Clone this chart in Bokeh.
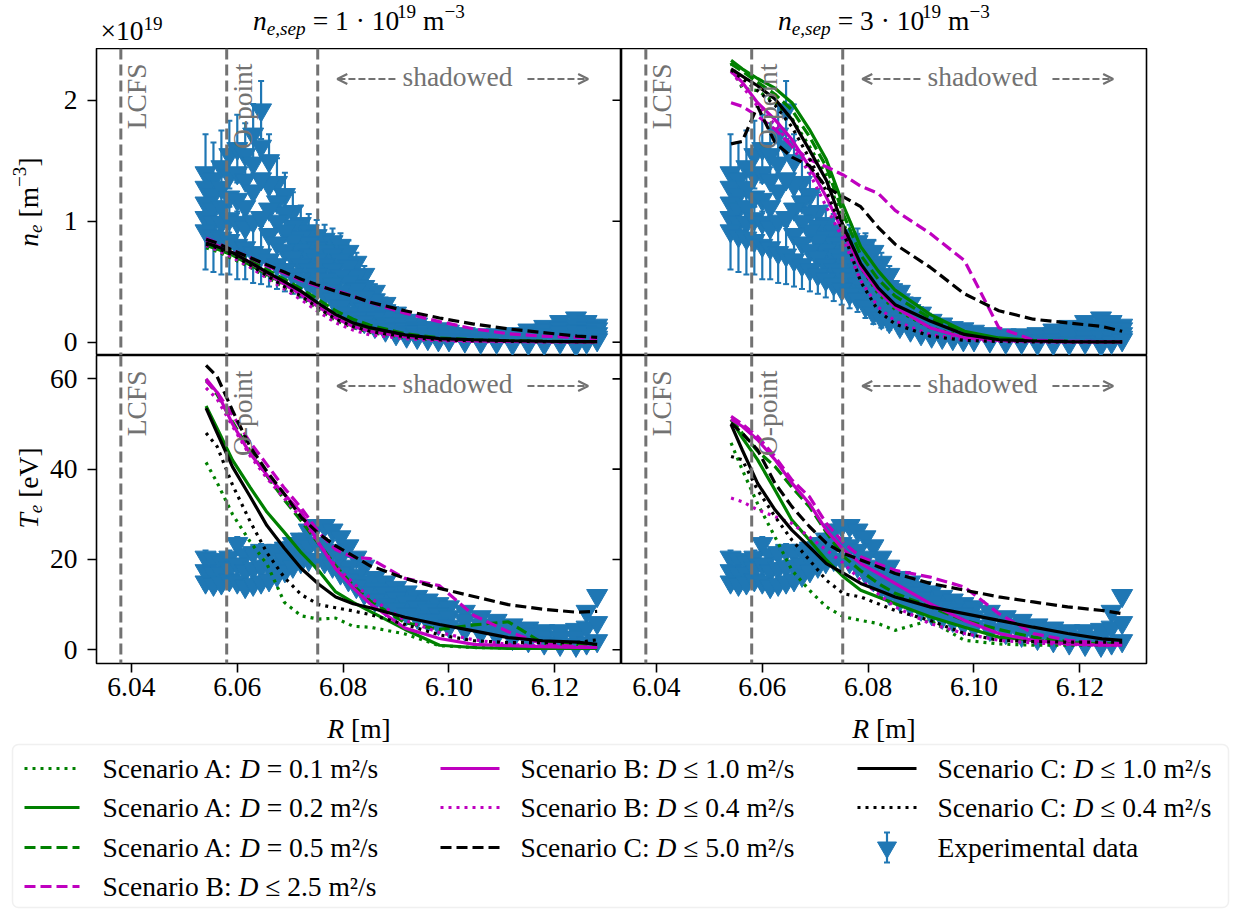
import numpy as np
from bokeh.plotting import figure
from bokeh.layouts import column, row
from bokeh.models import (Range1d, FixedTicker, PrintfTickFormatter, Span, Label,
                          Arrow, OpenHead, BoxAnnotation)
from bokeh.embed import file_html
from bokeh.resources import INLINE

# ---------------------------------------------------------------- data
R_MODEL = [6.0541, 6.0562, 6.0591, 6.0624, 6.0656, 6.0689, 6.0721, 6.0754, 6.0786,
           6.0819, 6.0851, 6.0917, 6.0982, 6.1047, 6.1112, 6.1177, 6.1242, 6.1280]

# n_e [1e19 m^-3], n_e,sep = 1e19
NE_SEP1 = {
    "A01": [0.78, 0.75, 0.69, 0.62, 0.54, 0.45, 0.37, 0.27, 0.18, 0.12, 0.08, 0.04, 0.018, 0.010, 0.006, 0.004, 0.003, 0.003],
    "A02": [0.80, 0.77, 0.72, 0.64, 0.56, 0.48, 0.40, 0.30, 0.21, 0.14, 0.10, 0.05, 0.025, 0.015, 0.010, 0.006, 0.004, 0.004],
    "A05": [0.83, 0.80, 0.75, 0.68, 0.60, 0.52, 0.44, 0.35, 0.26, 0.19, 0.14, 0.07, 0.035, 0.020, 0.013, 0.008, 0.005, 0.005],
    "B25": [0.86, 0.82, 0.76, 0.70, 0.63, 0.57, 0.51, 0.46, 0.43, 0.38, 0.33, 0.24, 0.17, 0.11, 0.07, 0.05, 0.04, 0.03],
    "B10": [0.84, 0.80, 0.74, 0.66, 0.57, 0.48, 0.39, 0.29, 0.20, 0.13, 0.09, 0.045, 0.020, 0.010, 0.006, 0.004, 0.003, 0.003],
    "B04": [0.80, 0.76, 0.70, 0.62, 0.53, 0.44, 0.35, 0.25, 0.16, 0.10, 0.06, 0.030, 0.012, 0.006, 0.004, 0.003, 0.002, 0.002],
    "C50": [0.85, 0.82, 0.76, 0.70, 0.64, 0.58, 0.52, 0.47, 0.42, 0.38, 0.33, 0.26, 0.20, 0.15, 0.11, 0.08, 0.05, 0.04],
    "C10": [0.82, 0.79, 0.74, 0.66, 0.58, 0.50, 0.42, 0.32, 0.23, 0.16, 0.12, 0.06, 0.030, 0.020, 0.012, 0.008, 0.005, 0.005],
    "C04": [0.81, 0.78, 0.72, 0.64, 0.55, 0.46, 0.38, 0.28, 0.19, 0.13, 0.09, 0.045, 0.020, 0.012, 0.008, 0.005, 0.004, 0.004],
}
# n_e [1e19 m^-3], n_e,sep = 3e19
NE_SEP3 = {
    "A01": [2.31, 2.10, 2.08, 1.98, 1.85, 1.62, 1.38, 0.98, 0.62, 0.40, 0.27, 0.12, 0.045, 0.015, 0.006, 0.003, 0.002, 0.002],
    "A02": [2.33, 2.26, 2.18, 2.10, 1.98, 1.76, 1.51, 1.12, 0.79, 0.59, 0.43, 0.23, 0.09, 0.035, 0.015, 0.008, 0.005, 0.005],
    "A05": [2.30, 2.24, 2.15, 2.05, 1.92, 1.70, 1.45, 1.05, 0.72, 0.52, 0.38, 0.20, 0.08, 0.030, 0.012, 0.006, 0.004, 0.004],
    "B25": [1.98, 1.95, 1.87, 1.76, 1.62, 1.51, 1.45, 1.38, 1.29, 1.23, 1.09, 0.90, 0.675, 0.12, 0.017, 0.008, 0.005, 0.005],
    "B10": [2.24, 2.15, 1.98, 1.84, 1.675, 1.45, 1.20, 0.90, 0.62, 0.425, 0.29, 0.12, 0.036, 0.014, 0.006, 0.003, 0.002, 0.002],
    "B04": [2.24, 2.12, 1.95, 1.80, 1.62, 1.40, 1.12, 0.84, 0.51, 0.29, 0.175, 0.064, 0.020, 0.008, 0.004, 0.002, 0.002, 0.002],
    "C50": [1.64, 1.66, 1.95, 1.65, 1.53, 1.46, 1.28, 1.20, 1.12, 0.95, 0.81, 0.62, 0.40, 0.26, 0.19, 0.16, 0.13, 0.09],
    "C10": [2.26, 2.20, 2.12, 2.01, 1.84, 1.59, 1.34, 0.95, 0.65, 0.45, 0.31, 0.175, 0.064, 0.020, 0.010, 0.005, 0.003, 0.003],
    "C04": [2.25, 2.18, 2.08, 1.96, 1.78, 1.52, 1.25, 0.90, 0.50, 0.26, 0.15, 0.05, 0.015, 0.006, 0.003, 0.002, 0.002, 0.002],
}
# T_e [eV], n_e,sep = 1e19
TE_SEP1 = {
    "A01": [41.5, 37.0, 30.0, 24.0, 19.0, 10.5, 7.5, 6.8, 7.0, 5.2, 5.0, 3.5, 0.9, 0.5, 0.4, 0.4, 0.4, 0.4],
    "A02": [54.0, 49.0, 42.0, 36.0, 30.5, 26.0, 21.5, 17.5, 12.8, 10.5, 8.5, 4.5, 1.0, 0.5, 0.3, 0.3, 0.3, 0.3],
    "A05": [59.8, 56.5, 50.5, 44.0, 38.5, 33.2, 28.5, 23.5, 18.6, 14.2, 10.8, 6.0, 4.5, 5.5, 6.2, 1.5, 1.0, 0.9],
    "B25": [59.5, 57.0, 52.0, 46.0, 41.0, 35.8, 31.4, 26.0, 22.2, 20.5, 20.2, 15.8, 14.2, 7.6, 4.0, 1.3, 0.7, 0.5],
    "B10": [60.0, 57.0, 50.0, 43.5, 38.7, 34.4, 30.4, 23.6, 17.9, 13.7, 10.2, 4.8, 2.5, 1.2, 0.9, 0.7, 0.5, 0.5],
    "B04": [58.0, 55.5, 49.5, 43.0, 38.0, 33.5, 29.2, 23.5, 18.5, 14.8, 11.5, 6.5, 3.8, 2.2, 1.2, 0.8, 0.6, 0.5],
    "C50": [63.0, 60.5, 53.0, 45.0, 39.5, 34.5, 29.3, 25.7, 23.0, 20.8, 18.6, 15.8, 13.6, 11.8, 10.0, 9.0, 8.3, 8.5],
    "C10": [53.5, 48.0, 40.5, 34.0, 27.5, 22.5, 18.0, 14.5, 11.7, 10.2, 9.3, 7.2, 5.6, 4.2, 2.7, 2.0, 1.7, 1.2],
    "C04": [48.0, 45.0, 36.5, 28.5, 21.5, 16.0, 12.2, 10.0, 9.3, 8.6, 7.8, 5.6, 3.3, 2.0, 1.6, 1.6, 1.6, 2.2],
}
# T_e [eV], n_e,sep = 3e19
TE_SEP3 = {
    "A01": [45.8, 39.9, 32.4, 25.0, 17.6, 13.2, 9.5, 7.3, 6.5, 5.8, 4.3, 6.5, 2.1, 1.3, 1.0, 1.0, 1.0, 1.0],
    "A02": [51.0, 47.0, 42.1, 35.4, 28.7, 24.3, 19.9, 16.1, 13.2, 11.7, 10.2, 7.3, 5.0, 2.8, 2.1, 1.6, 1.3, 1.3],
    "A05": [51.0, 48.0, 44.0, 40.6, 36.0, 31.7, 26.0, 20.6, 17.5, 14.7, 12.5, 9.5, 6.5, 4.5, 2.8, 1.8, 1.3, 1.3],
    "B25": [51.7, 50.0, 47.3, 42.8, 37.6, 33.9, 28.0, 23.6, 20.6, 19.0, 17.6, 16.1, 13.9, 8.0, 3.6, 2.1, 1.5, 1.3],
    "B10": [51.0, 49.5, 46.5, 42.1, 36.9, 32.4, 26.5, 22.1, 19.1, 16.9, 14.7, 10.2, 6.5, 3.6, 2.1, 1.3, 1.0, 1.0],
    "B04": [33.6, 32.8, 31.0, 29.5, 28.0, 25.0, 22.1, 19.1, 15.4, 12.4, 9.5, 5.8, 3.6, 2.1, 1.5, 1.2, 1.0, 1.0],
    "C50": [50.2, 48.0, 44.3, 36.9, 31.7, 27.3, 23.6, 21.3, 19.9, 18.4, 16.9, 14.7, 13.2, 11.7, 10.6, 9.5, 8.7, 8.0],
    "C10": [49.9, 44.3, 36.9, 31.0, 26.5, 22.8, 19.1, 16.9, 14.7, 13.2, 11.7, 9.5, 8.0, 6.5, 5.0, 3.6, 2.4, 2.1],
    "C04": [42.8, 42.1, 35.4, 29.5, 24.3, 19.9, 15.4, 12.4, 11.7, 10.2, 8.7, 6.5, 3.6, 2.1, 1.8, 1.7, 1.7, 1.7],
}

# experimental data (same profiles in both columns)
R_EXP = [6.0540, 6.0555, 6.0570, 6.0585, 6.0600, 6.0615, 6.0630, 6.0645, 6.0660, 6.0675,
         6.0690, 6.0705, 6.0720, 6.0735, 6.0750, 6.0765, 6.0780, 6.0795, 6.0810, 6.0825,
         6.0840, 6.0860, 6.0880, 6.0900, 6.0920, 6.0940, 6.0960, 6.0980, 6.1000, 6.1030,
         6.1060, 6.1090, 6.1120, 6.1150, 6.1180, 6.1210, 6.1240, 6.1260, 6.1280]
NE_EXP_HI = [1.40, 1.35, 1.45, 1.55, 1.60, 1.55, 1.72, 1.92, 1.50, 1.32, 1.22, 1.08, 0.98, 0.92, 0.88,
             0.85, 0.83, 0.80, 0.75, 0.66, 0.56, 0.42, 0.32, 0.24, 0.18, 0.15, 0.12, 0.11, 0.09, 0.07,
             0.06, 0.06, 0.07, 0.10, 0.13, 0.17, 0.20, 0.17, 0.14]
NE_EXP_UM = [1.28, 1.22, 1.28, 1.38, 1.40, 1.34, 1.48, 1.62, 1.30, 1.16, 1.07, 0.96, 0.87, 0.82, 0.78,
             0.75, 0.72, 0.68, 0.63, 0.55, 0.46, 0.35, 0.26, 0.19, 0.14, 0.12, 0.10, 0.08, 0.07, 0.05,
             0.04, 0.04, 0.05, 0.07, 0.10, 0.12, 0.14, 0.12, 0.11]
NE_EXP_MID = [1.15, 1.10, 1.12, 1.20, 1.18, 1.12, 1.25, 1.35, 1.10, 1.00, 0.92, 0.84, 0.76, 0.72, 0.68,
              0.64, 0.60, 0.55, 0.50, 0.44, 0.37, 0.28, 0.21, 0.15, 0.11, 0.09, 0.07, 0.06, 0.05, 0.04,
              0.03, 0.03, 0.03, 0.05, 0.06, 0.08, 0.09, 0.08, 0.07]
NE_EXP_LM = [1.03, 0.99, 0.99, 1.02, 0.99, 0.95, 1.00, 1.03, 0.89, 0.82, 0.76, 0.70, 0.64, 0.60, 0.56,
             0.52, 0.48, 0.42, 0.37, 0.32, 0.27, 0.20, 0.15, 0.11, 0.08, 0.06, 0.05, 0.04, 0.03, 0.02,
             0.02, 0.01, 0.01, 0.02, 0.03, 0.04, 0.04, 0.04, 0.04]
NE_EXP_LO = [0.92, 0.88, 0.86, 0.84, 0.80, 0.78, 0.74, 0.72, 0.68, 0.64, 0.60, 0.56, 0.52, 0.48, 0.44,
             0.40, 0.36, 0.30, 0.24, 0.20, 0.17, 0.13, 0.10, 0.07, 0.05, 0.04, 0.03, 0.02, 0.02, 0.01,
             0.00, 0.00, -0.01, -0.01, -0.01, 0.00, -0.02, 0.00, 0.02]
NE_EXP_ERR = [0.32, 0.30, 0.30, 0.28, 0.28, 0.26, 0.25, 0.24, 0.22, 0.20, 0.18, 0.16, 0.15, 0.14, 0.13,
              0.12, 0.11, 0.10, 0.09, 0.08, 0.07, 0.06, 0.05, 0.05, 0.04, 0.04, 0.03, 0.03, 0.03, 0.03,
              0.03, 0.03, 0.03, 0.03, 0.03, 0.03, 0.03, 0.03, 0.03]
TE_EXP_HI = [20.5, 20.0, 19.5, 20.5, 23.5, 21.0, 21.5, 22.0, 21.5, 22.0, 22.5, 23.5, 24.5, 26.5, 27.5,
             27.5, 26.5, 25.0, 23.0, 20.5, 18.5, 16.0, 15.0, 13.8, 12.8, 11.8, 11.0, 10.2, 9.5, 8.5,
             7.3, 6.5, 5.5, 4.8, 4.2, 4.2, 4.5, 8.5, 12.0]
TE_EXP_MID = [17.5, 17.0, 17.0, 18.0, 19.0, 17.5, 18.0, 18.5, 18.5, 19.0, 20.0, 21.0, 22.0, 23.0, 23.5,
              23.0, 22.0, 20.5, 18.5, 16.5, 15.0, 13.5, 12.5, 11.5, 10.5, 9.5, 8.8, 8.0, 7.3, 6.5,
              5.5, 4.8, 4.0, 3.4, 2.8, 2.6, 2.8, 5.0, 6.0]
TE_EXP_LO = [15.0, 14.5, 14.8, 15.5, 15.0, 14.0, 14.5, 15.0, 15.5, 16.5, 17.5, 18.5, 19.5, 20.0, 20.0,
             19.5, 18.5, 17.0, 15.5, 14.0, 12.5, 11.0, 10.0, 9.0, 8.0, 7.2, 6.5, 5.8, 5.2, 4.5,
             3.8, 3.2, 2.5, 2.0, 1.5, 1.2, 1.0, 1.5, 2.0]
TE_EXP_ERR = [1.5, 1.5, 1.5, 1.5, 1.5, 1.4, 1.4, 1.4, 1.3, 1.3, 1.3, 1.2, 1.2, 1.2, 1.1,
              1.1, 1.0, 1.0, 1.0, 0.9, 0.9, 0.8, 0.8, 0.8, 0.7, 0.7, 0.7, 0.6, 0.6, 0.6,
              0.5, 0.5, 0.5, 0.5, 0.4, 0.4, 0.4, 0.4, 0.4]

VLINE_R = [6.038, 6.058, 6.0752]
VLINE_TEXT = ["LCFS", "O-point", ""]
SHADOW_FROM, SHADOW_TO = 6.0789, 6.1263
SHADOW_TEXT_X = 6.1016
X_TICKS = [6.04, 6.06, 6.08, 6.10, 6.12]
NE_TICKS = [0, 1, 2]
TE_TICKS = [0, 20, 40, 60]
NE_SEP_VALUES = ["1", "3"]

SCENARIOS = [  # key, prefix, relation, D value
    ("A01", "Scenario A: ", "=", "0.1"),
    ("A02", "Scenario A: ", "=", "0.2"),
    ("A05", "Scenario A: ", "=", "0.5"),
    ("B25", "Scenario B: ", "\u2264", "2.5"),
    ("B10", "Scenario B: ", "\u2264", "1.0"),
    ("B04", "Scenario B: ", "\u2264", "0.4"),
    ("C50", "Scenario C: ", "\u2264", "5.0"),
    ("C10", "Scenario C: ", "\u2264", "1.0"),
    ("C04", "Scenario C: ", "\u2264", "0.4"),
]
EXP_LABEL = "Experimental data"

# ---------------------------------------------------------------- styles
FONT = "Liberation Serif"
FS = 27.5
BASE_FIX = 0.33           # Bokeh alphabetic-baseline correction (em)
GRAY = "#727272"
BLUE = "#1f77b4"
STYLE = {
    "A01": ("#008000", "3 5"), "A02": ("#008000", "solid"), "A05": ("#008000", "11 5"),
    "B25": ("#bf00bf", "11 5"), "B10": ("#bf00bf", "solid"), "B04": ("#bf00bf", "3 5"),
    "C50": ("#000000", "11 5"), "C10": ("#000000", "solid"), "C04": ("#000000", "3 5"),
}
LW = 3.2
MARKER_SIZE = 21

XR = (6.0334, 6.1326)
NE_RANGE = (-0.11, 2.428)
TE_RANGE = (-3.04, 65.17)
FW = 525
TOTAL_W = 1233
HEADER_H = 48
STRIP_W = 46
PANEL_BORDER_L = 50
RIGHT_BORDER = 87
TOP_FH, BOT_FH = 307, 308
BOT_BORDER = 50
FOOTER_H = 910 - HEADER_H - TOP_FH - BOT_FH - BOT_BORDER

TIMES_R = {' ': 250, '!': 333, '(': 333, ')': 333, ',': 250, '-': 333, '.': 250, '/': 278,
           ':': 278, '=': 564, '[': 333, ']': 333, '\u00d7': 564, '\u00b7': 250, '\u2212': 564,
           '\u2264': 549, '\u00b2': 300,
           'A': 722, 'B': 667, 'C': 667, 'D': 722, 'E': 611, 'F': 556, 'L': 611, 'O': 722,
           'R': 667, 'S': 556, 'T': 611, 'V': 722,
           'a': 444, 'b': 500, 'c': 444, 'd': 500, 'e': 444, 'h': 500, 'i': 278, 'l': 278,
           'm': 778, 'n': 500, 'o': 500, 'p': 500, 'r': 333, 's': 389, 't': 278, 'w': 722, 'x': 500}
TIMES_I = {'D': 722, 'R': 611, 'T': 556, 'n': 500, 'e': 444, 's': 389, 'p': 500, ',': 250}


def tw(s, italic=False):
    tab = TIMES_I if italic else TIMES_R
    return sum(tab.get(c, TIMES_R.get(c, 500)) for c in s) / 1000.0


def rich(p, x, y, parts, size=FS, angle=0.0, align="left", dx=0.0, dy=0.0, color="black"):
    """parts: (text, italic, scale, rise_em); (x, y) is the baseline anchor."""
    widths = [tw(t, it) * size * sc for (t, it, sc, r) in parts]
    total = sum(widths)
    adv = {"left": 0.0, "center": -total / 2.0, "right": -total}[align]
    for (t, it, sc, r), w in zip(parts, widths):
        lead = (len(t) - len(t.lstrip(" "))) * 0.25 * size * sc
        core = t.strip(" ")
        a = adv + lead
        perp = r * size + BASE_FIX * size * sc
        if angle == 0:
            xo, yo = dx + a, dy + perp
        else:
            xo, yo = dx - perp, dy + a
        if core:
            p.add_layout(Label(x=x, y=y, x_offset=xo, y_offset=yo, text=core, angle=angle,
                               text_font=FONT, text_font_size=f"{size * sc:.1f}px",
                               text_font_style="italic" if it else "normal",
                               text_color=color, text_align="left", text_baseline="alphabetic"))
        adv += w


def aux_fig(w, h):
    f = figure(width=w, height=h, x_range=Range1d(0, w), y_range=Range1d(h, 0),
               x_axis_location=None, y_axis_location=None, toolbar_location=None,
               output_backend="svg", min_border=0)
    f.outline_line_color = None
    f.xgrid.grid_line_color = None
    f.ygrid.grid_line_color = None
    return f


def style_axis(ax, ticks, fmt, standoff):
    ax.ticker = FixedTicker(ticks=ticks)
    ax.formatter = PrintfTickFormatter(format=fmt)
    ax.major_tick_out = 9
    ax.major_tick_in = 0
    ax.minor_tick_out = 0
    ax.minor_tick_in = 0
    ax.major_tick_line_width = 1.6
    ax.major_tick_line_color = "black"
    ax.axis_line_color = None
    ax.major_label_text_font = FONT
    ax.major_label_text_font_size = f"{FS}px"
    ax.major_label_text_color = "black"
    ax.major_label_standoff = standoff


def panel(yr, yticks, left, top):
    fh = TOP_FH if top else BOT_FH
    p = figure(frame_width=FW, frame_height=fh, x_range=Range1d(*XR), y_range=Range1d(*yr),
               x_axis_location=None if top else "below",
               y_axis_location="left" if left else None,
               output_backend="svg", toolbar_location=None,
               min_border_left=PANEL_BORDER_L if left else 0,
               min_border_right=0 if left else RIGHT_BORDER,
               min_border_top=0, min_border_bottom=0 if top else BOT_BORDER)
    p.xgrid.grid_line_color = None
    p.ygrid.grid_line_color = None
    p.outline_line_color = "black"
    p.outline_line_width = 1.6
    if not top:
        style_axis(p.xaxis[0], X_TICKS, "%.2f", 5)
    if left:
        style_axis(p.yaxis[0], yticks, "%d", 10)
        # inward ticks on the shared border (ticks of the right-hand panel)
        tick_len = 9 * (XR[1] - XR[0]) / FW
        n = len(yticks)
        p.segment(x0=[XR[1] - tick_len] * n, y0=yticks, x1=[XR[1]] * n, y1=yticks,
                  line_color="black", line_width=1.6)
    return p, fh


def add_exp(p, rows, err):
    x_all = np.array(R_EXP * len(rows))
    y_all = np.array(sum(rows, []))
    xe = np.array(R_EXP * 2)
    ye = np.array(rows[0] + rows[-1])
    e = np.array(err * 2)
    p.segment(x0=xe, y0=ye - e, x1=xe, y1=ye + e, line_color=BLUE, line_width=2.2)
    p.scatter(x=np.r_[xe, xe], y=np.r_[ye - e, ye + e], marker="dash", size=6,
              line_color=BLUE, line_width=2)
    p.scatter(x=x_all, y=y_all, marker="inverted_triangle", size=MARKER_SIZE,
              fill_color=BLUE, line_color=BLUE)


def add_models(p, data):
    for key, *_ in SCENARIOS:
        col, dash = STYLE[key]
        p.line(R_MODEL, data[key], line_color=col, line_width=LW, line_dash=dash)


def add_annotations(p, yr, fh):
    ymin, ymax = yr
    per_px = (ymax - ymin) / fh
    for r, t in zip(VLINE_R, VLINE_TEXT):
        p.add_layout(Span(location=r, dimension="height", line_color=GRAY,
                          line_width=3, line_dash="11 5"))
        if t:
            p.add_layout(Label(x=r, y=ymax, x_offset=25 - BASE_FIX * FS, y_offset=-15, text=t,
                               angle=np.pi / 2, text_align="right", text_baseline="alphabetic",
                               text_font=FONT, text_font_size=f"{FS}px", text_color=GRAY))
    ya = ymax - 30.5 * per_px
    gap_l = SHADOW_TEXT_X - 62 / 5291.0
    gap_r = SHADOW_TEXT_X + 70 / 5291.0
    for xs, xe in ((gap_l, SHADOW_FROM), (gap_r, SHADOW_TO)):
        p.add_layout(Arrow(x_start=xs, y_start=ya, x_end=xe, y_end=ya, start=None,
                           end=OpenHead(size=10, line_color=GRAY, line_width=2.2),
                           line_color=GRAY, line_width=2.2, line_dash="7 3"))
    p.add_layout(Label(x=SHADOW_TEXT_X, y=ya, y_offset=-6.7 + BASE_FIX * FS, text="shadowed",
                       text_align="center", text_baseline="alphabetic", text_font=FONT,
                       text_font_size=f"{FS}px", text_color=GRAY))


# ---------------------------------------------------------------- panels
panels = []
for i, (ne_data, te_data) in enumerate([(NE_SEP1, TE_SEP1), (NE_SEP3, TE_SEP3)]):
    left = i == 0
    pt, fht = panel(NE_RANGE, NE_TICKS, left, True)
    add_exp(pt, [NE_EXP_HI, NE_EXP_UM, NE_EXP_MID, NE_EXP_LM, NE_EXP_LO], NE_EXP_ERR)
    add_models(pt, ne_data)
    add_annotations(pt, NE_RANGE, fht)
    pb, fhb = panel(TE_RANGE, TE_TICKS, left, False)
    add_exp(pb, [TE_EXP_HI, TE_EXP_MID, TE_EXP_LO], TE_EXP_ERR)
    add_models(pb, te_data)
    add_annotations(pb, TE_RANGE, fhb)
    panels.append((pt, pb))

# ---------------------------------------------------------------- header (titles, multiplier)
col_centers = [STRIP_W + PANEL_BORDER_L + FW / 2, STRIP_W + PANEL_BORDER_L + FW + FW / 2]
hdr = aux_fig(TOTAL_W, HEADER_H)
for i, xc in enumerate(col_centers):
    rich(hdr, xc, 29.3,
         [("n", True, 1, 0), ("e,sep", True, 0.7, -0.17),
          (" = " + NE_SEP_VALUES[i] + " \u00b7 10", False, 1, 0),
          ("19", False, 0.7, 0.42), (" m", False, 1, 0), ("\u22123", False, 0.7, 0.42)],
         align="center")
rich(hdr, STRIP_W + PANEL_BORDER_L + 4, 39.3, [("\u00d710", False, 1, 0), ("19", False, 0.7, 0.37)])

# ---------------------------------------------------------------- y-label strips
st = aux_fig(STRIP_W, TOP_FH)
rich(st, 37, TOP_FH / 2,
     [("n", True, 1, 0), ("e", True, 0.7, -0.17), (" [m", False, 1, 0),
      ("\u22123", False, 0.7, 0.42), ("]", False, 1, 0)],
     angle=np.pi / 2, align="center")
sb = aux_fig(STRIP_W, BOT_FH + BOT_BORDER)
rich(sb, 37, BOT_FH / 2,
     [("T", True, 1, 0), ("e", True, 0.7, -0.17), (" [eV]", False, 1, 0)],
     angle=np.pi / 2, align="center")

# ---------------------------------------------------------------- footer (x labels + legend)
ft = aux_fig(TOTAL_W, FOOTER_H)
for xc in col_centers:
    rich(ft, xc, 24, [("R", True, 1, 0), (" [m]", False, 1, 0)], align="center")
ft.add_layout(BoxAnnotation(left=12, right=1228, top=31, bottom=194, fill_color="white",
                            fill_alpha=1.0, line_color="#cccccc", line_width=1.5,
                            border_radius=6, level="underlay"))
LEG_HANDLE_X = [(24, 79), (440, 499), (857, 916)]
LEG_TEXT_X = [102, 520, 937]
LEG_ROW_Y = [55, 94, 134, 173]
entries = [s[0] for s in SCENARIOS] + ["EXP"]
slots = [(0, 0), (0, 1), (0, 2), (0, 3), (1, 0), (1, 1), (1, 2), (2, 0), (2, 1), (2, 2)]
for key, (c, r) in zip(entries, slots):
    yc = LEG_ROW_Y[r]
    hx0, hx1 = LEG_HANDLE_X[c]
    if key == "EXP":
        xm = 0.5 * (hx0 + hx1)
        ft.segment(x0=[xm], y0=[yc - 15], x1=[xm], y1=[yc + 15], line_color=BLUE, line_width=2.2)
        ft.scatter(x=[xm, xm], y=[yc - 15, yc + 15], marker="dash", size=6, line_color=BLUE, line_width=2)
        ft.scatter(x=[xm], y=[yc], marker="inverted_triangle", size=19, fill_color=BLUE, line_color=BLUE)
        rich(ft, LEG_TEXT_X[c], yc, [(EXP_LABEL, False, 1, 0)], dy=-9)
    else:
        col, dash = STYLE[key]
        ft.line([hx0, hx1], [yc, yc], line_color=col, line_width=LW, line_dash=dash)
        _, prefix, rel, dval = next(s for s in SCENARIOS if s[0] == key)
        rich(ft, LEG_TEXT_X[c], yc,
             [(prefix, False, 1, 0), ("D", True, 1, 0), (" " + rel + " " + dval + " m\u00b2/s", False, 1, 0)],
             dy=-9)

layout = column(
    hdr,
    row(st, panels[0][0], panels[1][0]),
    row(sb, panels[0][1], panels[1][1]),
    ft,
)
open("out.html", "w").write(file_html(layout, INLINE))
